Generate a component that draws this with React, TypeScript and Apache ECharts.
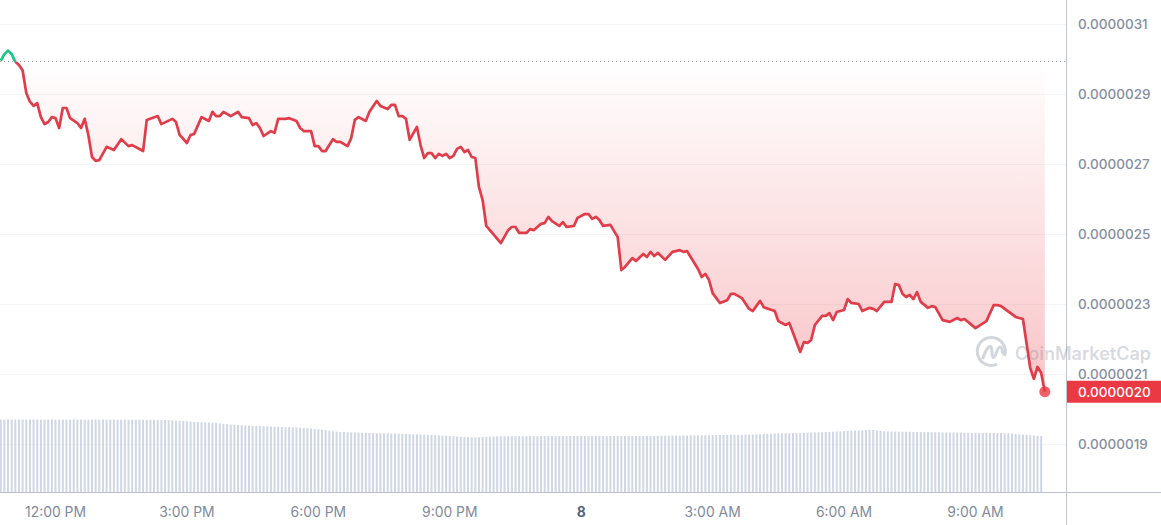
import React, { useEffect, useRef } from "react";
import * as echarts from "echarts";

// Sample index: one sample every 5 minutes, sample 15 is 12:00 PM.
const priceSamples = [
  0, 1, 2, 3, 4, 5, 6, 7, 8, 9, 10, 11, 12, 13, 14, 15, 16, 17, 18, 19, 21, 22, 23, 24, 25, 26, 27, 29, 31, 33, 35, 36, 39, 40, 43, 44, 47, 48, 49, 51,
  52, 53, 55, 57, 58, 59, 60, 61, 63, 65, 66, 68, 69, 70, 71, 72, 74, 75, 76, 78, 79, 81, 82, 83, 85, 86, 87, 88, 89, 91, 92, 93, 95, 96, 97, 98, 100, 101, 103, 104,
  106, 107, 108, 109, 110, 111, 112, 114, 115, 116, 117, 118, 119, 120, 121, 122, 123, 124, 125, 126, 127, 128, 129, 130, 131, 132, 133, 137, 139, 140, 141, 142, 144, 145, 146, 148, 149, 150, 151, 153,
  154, 155, 157, 158, 160, 161, 162, 163, 164, 165, 167, 169, 170, 171, 173, 174, 176, 177, 178, 179, 180, 182, 184, 186, 187, 188, 191, 192, 193, 194, 195, 197, 199, 200, 201, 203, 205, 206, 208, 209,
  212, 213, 215, 216, 219, 220, 221, 222, 223, 225, 226, 227, 228, 229, 231, 232, 233, 235, 236, 238, 239, 240, 242, 244, 245, 246, 247, 248, 249, 250, 251, 252, 254, 255, 256, 258, 260, 262, 263, 264,
  267, 270, 272, 273, 274, 278, 280, 282, 283, 284, 285, 286,
];
// Price in units of 0.0000001
const priceValues = [
  29.95, 30.14, 30.24, 30.14, 29.92, 29.83, 29.67, 29.03, 28.78, 28.66, 28.74, 28.34, 28.14, 28.2, 28.34, 28.31, 28.03, 28.6, 28.6, 28.31, 28.17, 28.03, 28.29, 27.83, 27.2, 27.09, 27.11, 27.49, 27.4, 27.71, 27.51, 27.54, 27.37, 28.26, 28.37, 28.14, 28.29, 28.2, 27.83, 27.6,
  27.83, 27.86, 28.34, 28.23, 28.49, 28.37, 28.37, 28.49, 28.37, 28.49, 28.34, 28.31, 28.11, 28.17, 28.03, 27.8, 27.94, 27.89, 28.29, 28.29, 28.31, 28.23, 28.03, 27.94, 27.94, 27.51, 27.51, 27.37, 27.37, 27.71, 27.63, 27.63, 27.51, 27.74, 28.26, 28.34, 28.23, 28.49, 28.8, 28.66,
  28.57, 28.69, 28.69, 28.37, 28.37, 28.29, 27.69, 28.06, 27.54, 27.17, 27.31, 27.31, 27.17, 27.29, 27.23, 27.29, 27.17, 27.23, 27.43, 27.49, 27.34, 27.4, 27.2, 27.17, 26.34, 25.97, 25.23, 24.74, 25.11, 25.2, 25.2, 25.03, 25.03, 25.14, 25.11, 25.29, 25.31, 25.49, 25.37, 25.23,
  25.34, 25.2, 25.23, 25.46, 25.57, 25.57, 25.43, 25.49, 25.4, 25.23, 25.26, 24.91, 23.97, 24.06, 24.31, 24.23, 24.43, 24.34, 24.49, 24.37, 24.46, 24.26, 24.49, 24.54, 24.49, 24.51, 24.0, 23.77, 23.86, 23.69, 23.31, 23.03, 23.11, 23.29, 23.29, 23.17, 22.86, 22.8, 23.09, 22.91,
  22.8, 22.51, 22.4, 22.46, 21.63, 21.91, 21.89, 21.97, 22.4, 22.66, 22.66, 22.74, 22.54, 22.77, 22.83, 23.14, 23.03, 23.0, 22.8, 22.89, 22.86, 22.8, 23.06, 23.06, 23.57, 23.54, 23.29, 23.2, 23.26, 23.14, 23.34, 23.06, 22.89, 22.94, 22.91, 22.54, 22.49, 22.6, 22.54, 22.57,
  22.31, 22.51, 22.97, 22.97, 22.94, 22.63, 22.57, 21.17, 20.86, 21.2, 21.03, 20.49,
];
const volumeValues = [
  72.5, 72.5, 72.6, 72.5, 72.4, 72.5, 72.5, 72.4, 72.5, 72.6,
  72.5, 72.4, 72.5, 72.5, 72.6, 72.5, 72.4, 72.5, 72.5, 72.4,
  72.6, 72.5, 72.5, 72.4, 72.3, 72.5, 72.6, 72.5, 72.5, 72.4,
  72.3, 72.4, 72.3, 72.3, 72.4, 72.3, 72.2, 72.2, 72.3, 72.2,
  72.1, 72.2, 72.2, 72.1, 72.0, 72.0, 71.8, 71.6, 71.4, 71.2,
  71.0, 70.8, 70.5, 70.2, 69.9, 69.7, 69.6, 69.5, 69.2, 69.0,
  68.6, 68.2, 67.8, 67.4, 67.2, 67.0, 66.7, 66.5, 66.4, 66.2,
  66.0, 65.9, 65.8, 65.6, 65.5, 65.3, 65.2, 65.0, 64.8, 64.8,
  64.6, 64.5, 64.3, 64.0, 63.8, 63.5, 63.2, 62.8, 62.3, 61.8,
  61.2, 60.8, 60.4, 60.0, 59.9, 59.7, 59.6, 59.5, 59.4, 59.3,
  59.2, 59.0, 59.0, 58.8, 58.8, 58.7, 58.6, 58.5, 58.5, 58.2,
  58.0, 58.0, 57.8, 57.7, 57.6, 57.5, 57.4, 57.2, 57.0, 56.8,
  56.6, 56.4, 56.2, 56.0, 55.8, 55.5, 55.3, 55.0, 54.8, 54.7,
  54.7, 54.8, 55.0, 55.2, 55.4, 55.5, 55.6, 55.7, 55.7, 55.8,
  55.8, 55.8, 55.9, 55.8, 55.8, 55.9, 55.9, 55.8, 55.9, 56.0,
  56.0, 55.9, 55.9, 56.0, 56.0, 55.9, 56.0, 56.0, 56.0, 55.9,
  56.0, 56.0, 56.0, 56.0, 56.0, 55.9, 55.8, 56.0, 56.0, 56.0,
  56.0, 56.0, 56.0, 55.9, 56.0, 56.0, 56.0, 56.0, 56.1, 56.0,
  56.1, 56.2, 56.2, 56.3, 56.3, 56.4, 56.4, 56.5, 56.5, 56.6,
  56.6, 56.6, 56.7, 56.7, 56.7, 56.8, 56.9, 57.0, 57.0, 57.1,
  57.2, 57.2, 57.2, 57.3, 57.3, 57.3, 57.5, 57.7, 57.8, 58.0,
  58.2, 58.3, 58.5, 58.6, 58.7, 58.7, 58.8, 59.0, 59.1, 59.2,
  59.3, 59.4, 59.5, 59.6, 59.7, 59.7, 59.9, 60.1, 60.3, 60.5,
  60.7, 60.9, 61.0, 61.2, 61.3, 61.3, 61.6, 62.0, 62.3, 62.0,
  61.6, 61.0, 60.8, 60.6, 60.5, 60.4, 60.3, 60.3, 60.2, 60.2,
  60.1, 60.0, 60.0, 59.9, 59.8, 59.7, 59.7, 59.7, 59.6, 59.6,
  59.5, 59.5, 59.4, 59.4, 59.3, 59.3, 59.2, 59.2, 59.2, 59.1,
  59.1, 59.1, 59.0, 59.0, 59.0, 58.8, 58.6, 58.4, 58.1, 57.7,
  57.4, 57.1, 56.8, 56.5, 56.2, 55.9,
];
const timeTicks = [15, 51, 87, 123, 159, 195, 231, 267];
const timeLabels = ["12:00 PM", "3:00 PM", "6:00 PM", "9:00 PM", "8", "3:00 AM", "6:00 AM", "9:00 AM"];
const priceTicks = [19, 21, 23, 25, 27, 29, 31];
const openPrice = 29.95;
const lastPrice = 20.49;
const lastPriceLabel = "0.0000020";
const pointsAboveOpen = 5;

const RED = "#ea3943";
const LINE_RED = "#e03c4a";
const GREEN = "#16c784";
const FONT = "Inter, 'Noto Sans', sans-serif";
const LOGO_PATH =
  "M28.5 19 A14 14 0 1 0 21 27.2 M6.5 22 C9 15 12 8.5 14.5 9.5 C17 10.5 15 20.5 17.5 20.5 C20 20.5 21 10 24 10 C27 10 25.5 18 29 17";

const formatPrice = (v: number) => (v / 1e7).toFixed(7);

export default function App() {
  const ref = useRef<HTMLDivElement>(null);
  useEffect(() => {
    document.body.style.margin = "0";
    echarts.graphic.registerShape("cmcLogo", echarts.graphic.extendPath(LOGO_PATH, {}));
    const chart = echarts.init(ref.current!, null, { renderer: "svg" });
    const xRange = { min: -0.2, max: 291.8 };
    const pricePoints = priceSamples.map((s, i) => [s, priceValues[i]]);
    chart.setOption({
      animation: false,
      backgroundColor: "#ffffff",
      grid: [
        { left: 0, width: 1066, top: 24, height: 420 },
        { left: 0, width: 1066, top: 419, height: 73 },
      ],
      xAxis: [
        { type: "value", gridIndex: 0, ...xRange, show: false },
        {
          type: "value",
          gridIndex: 1,
          ...xRange,
          splitLine: { show: false },
          axisLine: { show: true, onZero: false, lineStyle: { color: "#bcc0ca", width: 1 } },
          axisTick: { show: false, customValues: timeTicks },
          axisLabel: {
            customValues: timeTicks,
            margin: 13,
            fontFamily: FONT,
            fontSize: 13.9,
            fontWeight: 400,
            color: "#808a9d",
            formatter: (v: number) => {
              const t = timeLabels[timeTicks.indexOf(v)];
              return t === "8" ? `{day|${t}}` : t;
            },
            rich: { day: { fontFamily: FONT, fontSize: 13.9, fontWeight: 700, color: "#58667e" } },
          },
        },
      ],
      yAxis: [
        {
          type: "value",
          gridIndex: 0,
          position: "right",
          min: 19,
          max: 31,
          axisLine: { show: false },
          axisTick: { show: false, customValues: priceTicks },
          splitLine: { show: true, lineStyle: { color: "#f4f5f7", width: 1 } },
          axisLabel: {
            customValues: priceTicks,
            margin: 12,
            fontFamily: FONT,
            fontSize: 13.5,
            fontWeight: 500,
            color: "#858e9f",
            formatter: (v: number) => formatPrice(v),
          },
        },
        { type: "value", gridIndex: 1, min: 0, max: 73, show: false },
      ],
      series: [
        {
          type: "line",
          xAxisIndex: 0,
          yAxisIndex: 0,
          z: 3,
          data: pricePoints.slice(0, pointsAboveOpen),
          showSymbol: false,
          symbol: "none",
          lineStyle: { width: 2.7, join: "round", color: GREEN },
          itemStyle: { color: GREEN },
        },
        {
          type: "line",
          xAxisIndex: 0,
          yAxisIndex: 0,
          z: 3,
          data: pricePoints.slice(pointsAboveOpen - 1),
          showSymbol: false,
          symbol: "none",
          lineStyle: { width: 2.7, join: "round", color: LINE_RED },
          itemStyle: { color: LINE_RED },
          areaStyle: {
            origin: openPrice,
            color: new echarts.graphic.LinearGradient(0, 0, 0, 1, [
              { offset: 0, color: "rgba(234,57,67,0)" },
              { offset: 1, color: "rgba(234,57,67,0.3)" },
            ]),
            opacity: 1,
          },
          markLine: {
            silent: true,
            symbol: "none",
            animation: false,
            data: [
              {
                yAxis: openPrice,
                lineStyle: { color: "#a6abb5", type: [1, 3], width: 1 },
                label: { show: false },
              },
              {
                yAxis: lastPrice,
                lineStyle: { width: 0, color: "rgba(0,0,0,0)" },
                label: {
                  show: true,
                  position: "end",
                  distance: 0,
                  formatter: lastPriceLabel,
                  backgroundColor: RED,
                  color: "#ffffff",
                  fontFamily: FONT,
                  fontSize: 13.5,
                  fontWeight: 500,
                  padding: [4, 12, 4, 12],
                },
              },
            ],
          },
        },
        {
          type: "scatter",
          xAxisIndex: 0,
          yAxisIndex: 0,
          z: 4,
          symbol: "circle",
          symbolSize: 11,
          itemStyle: { color: RED },
          data: [[priceSamples[priceSamples.length - 1], lastPrice]],
        },
        {
          type: "bar",
          xAxisIndex: 1,
          yAxisIndex: 1,
          z: 1,
          barWidth: 2,
          itemStyle: { color: "#cfd6e4" },
          data: volumeValues.map((v, i) => [i, v]),
        },
      ],
      graphic: [
        { type: "line", z: 10, shape: { x1: 1066.5, y1: 0, x2: 1066.5, y2: 525 }, style: { stroke: "#c2c5cc", lineWidth: 1 } },
        { type: "line", z: 10, shape: { x1: 1066, y1: 492.5, x2: 1161, y2: 492.5 }, style: { stroke: "#bcc0ca", lineWidth: 1 } },
        { type: "cmcLogo", z: 20, x: 976, y: 337, style: { fill: "none", stroke: "rgba(128,138,157,0.36)", lineWidth: 3 } },
        {
          type: "text",
          z: 20,
          x: 1015,
          y: 353,
          style: {
            text: "CoinMarketCap",
            fontFamily: FONT,
            fontSize: 18,
            fontWeight: 600,
            fill: "rgba(128,138,157,0.32)",
            verticalAlign: "middle",
          },
        },
      ],
    });
    return () => chart.dispose();
  }, []);
  return <div ref={ref} style={{ position: "absolute", left: 0, top: 0, width: 1161, height: 525 }} />;
}
